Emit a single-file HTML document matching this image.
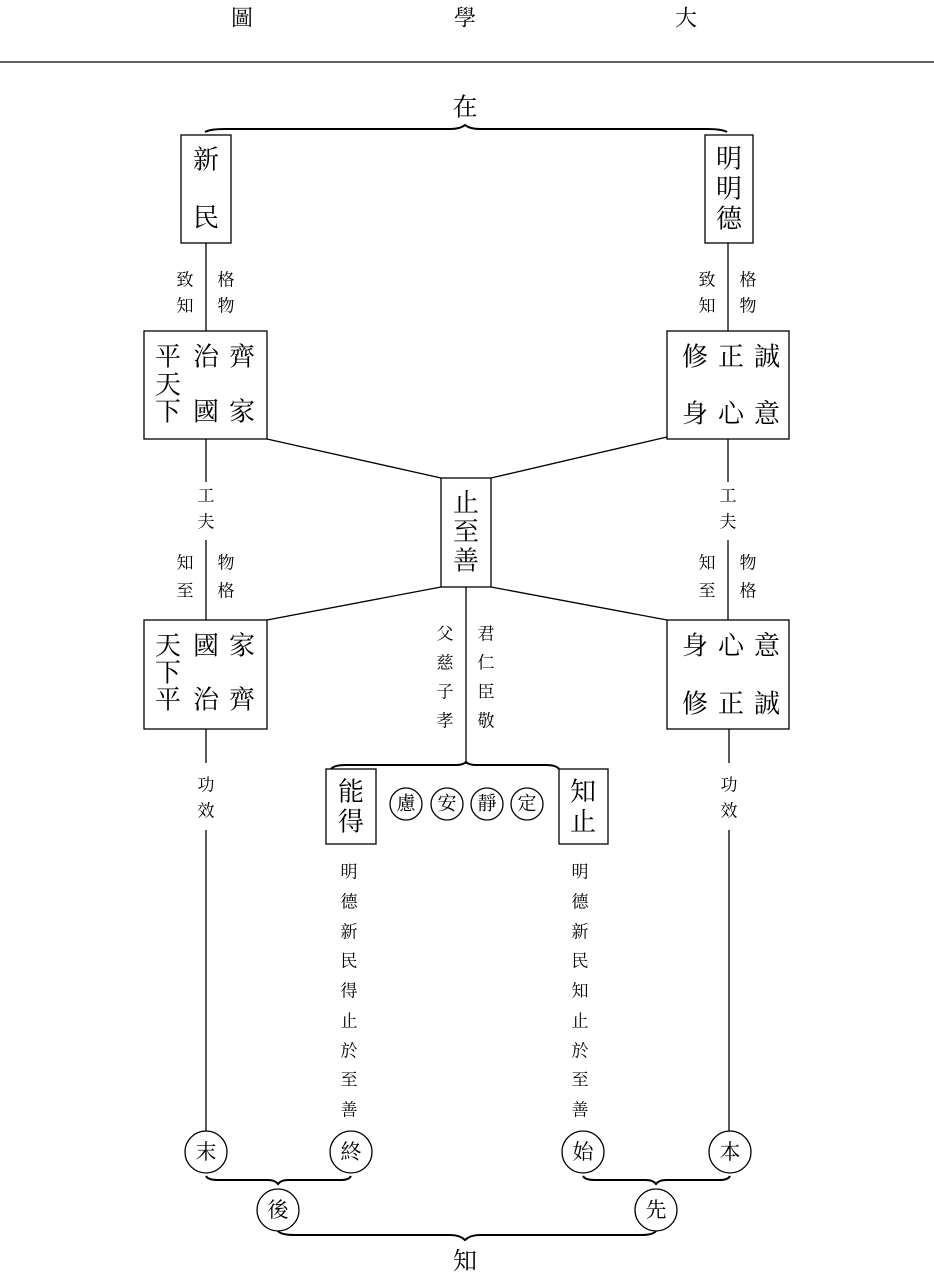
<!DOCTYPE html>
<html><head><meta charset="utf-8"><style>
html,body{margin:0;padding:0;background:#fff}
svg{display:block}
text{font-family:"Liberation Serif","Noto Serif CJK SC","Noto Sans CJK TC",serif;text-anchor:middle;dominant-baseline:central;fill:#000}
.s{font-size:17px;fill:#333}
.m{font-size:26px}
.c{font-size:21px}
</style></head><body>
<svg width="934" height="1277" viewBox="0 0 934 1277" xmlns="http://www.w3.org/2000/svg">
<g font-size="22">
<text x="242" y="18">圖</text><text x="465" y="18">學</text><text x="686" y="18">大</text>
</g>
<line x1="0" y1="62" x2="934" y2="62" stroke="#000" stroke-width="1.2"/>
<g fill="none" stroke="#000" stroke-width="1.3">
<path d="M205,132 Q210,129 225,129 L450,129 Q460,129 465,125 Q470,129 480,129 L707,129 Q722,129 727,132" stroke-width="2"/>
<rect x="181" y="135" width="50" height="108"/>
<rect x="705" y="135" width="48" height="108"/>
<line x1="206" y1="243" x2="206" y2="331"/>
<line x1="728" y1="243" x2="728" y2="331"/>
<rect x="144" y="331" width="123" height="108"/>
<rect x="667" y="331" width="122" height="108"/>
<line x1="267" y1="439" x2="441" y2="478"/>
<line x1="667" y1="437" x2="491" y2="478"/>
<rect x="441" y="478" width="50" height="109"/>
<line x1="441" y1="587" x2="267" y2="620"/>
<line x1="491" y1="587" x2="667" y2="620"/>
<rect x="144" y="620" width="123" height="109"/>
<rect x="667" y="620" width="122" height="109"/>
<line x1="206" y1="439" x2="206" y2="482"/><line x1="206" y1="540" x2="206" y2="620"/>
<line x1="728" y1="439" x2="728" y2="482"/><line x1="728" y1="540" x2="728" y2="620"/>
<line x1="466" y1="587" x2="466" y2="764"/>
<path d="M331,769 Q334,765 346,765 L456,765 Q463,765 466,762 Q469,765 476,765 L546,765 Q556,765 559,769" stroke-width="2"/>
<rect x="326" y="769" width="50" height="75"/>
<rect x="559" y="769" width="49" height="75"/>
<circle cx="406" cy="804" r="16"/><circle cx="447" cy="804" r="16"/>
<circle cx="487" cy="804" r="16"/><circle cx="527" cy="804" r="16"/>
<line x1="206" y1="729" x2="206" y2="763"/><line x1="206" y1="830" x2="206" y2="1131"/>
<line x1="729" y1="729" x2="729" y2="763"/><line x1="729" y1="830" x2="729" y2="1131"/>
<circle cx="206" cy="1152" r="21"/><circle cx="351" cy="1152" r="21"/>
<circle cx="583" cy="1152" r="21"/><circle cx="730" cy="1152" r="21"/>
<path d="M206,1176 Q208,1180 218,1180 L268,1180 Q275,1180 278,1184 Q281,1180 288,1180 L341,1180 Q349,1180 351,1176" stroke-width="2"/>
<path d="M583,1176 Q585,1180 595,1180 L646,1180 Q653,1180 656,1184 Q659,1180 666,1180 L720,1180 Q728,1180 730,1176" stroke-width="2"/>
<circle cx="278" cy="1210" r="21"/><circle cx="656" cy="1210" r="21"/>
<path d="M278,1231 Q281,1235 295,1235 L450,1235 Q460,1235 465,1240 Q470,1235 480,1235 L641,1235 Q653,1235 656,1231" stroke-width="2"/>
</g>
<text x="465" y="108" font-size="25">在</text>
<g class="m">
<text x="206" y="160">新</text><text x="206" y="218">民</text>
<text x="729" y="159">明</text><text x="729" y="189">明</text><text x="729" y="219">德</text>
<text x="168" y="357">平</text><text x="168" y="385">天</text><text x="168" y="412">下</text>
<text x="206" y="357">治</text><text x="206" y="412">國</text>
<text x="242" y="357">齊</text><text x="242" y="412">家</text>
<text x="695" y="357">修</text><text x="731" y="357">正</text><text x="767" y="357">誠</text>
<text x="695" y="414">身</text><text x="731" y="414">心</text><text x="767" y="414">意</text>
<text x="466" y="503">止</text><text x="466" y="532">至</text><text x="466" y="561">善</text>
<text x="168" y="646">天</text><text x="168" y="673">下</text><text x="168" y="700">平</text>
<text x="206" y="646">國</text><text x="206" y="700">治</text>
<text x="242" y="646">家</text><text x="242" y="700">齊</text>
<text x="695" y="646">身</text><text x="731" y="646">心</text><text x="767" y="646">意</text>
<text x="695" y="704">修</text><text x="731" y="704">正</text><text x="767" y="704">誠</text>
<text x="351" y="792">能</text><text x="351" y="822">得</text>
<text x="583" y="792">知</text><text x="583" y="822">止</text>
</g>
<g class="s">
<text x="185" y="280">致</text><text x="185" y="306">知</text>
<text x="226" y="280">格</text><text x="226" y="306">物</text>
<text x="707" y="280">致</text><text x="707" y="306">知</text>
<text x="748" y="280">格</text><text x="748" y="306">物</text>
<text x="206" y="496">工</text><text x="206" y="522">夫</text>
<text x="728" y="496">工</text><text x="728" y="522">夫</text>
<text x="185" y="563">知</text><text x="185" y="591">至</text>
<text x="226" y="563">物</text><text x="226" y="591">格</text>
<text x="707" y="563">知</text><text x="707" y="591">至</text>
<text x="748" y="563">物</text><text x="748" y="591">格</text>
<text x="445" y="634">父</text><text x="445" y="663">慈</text><text x="445" y="692">子</text><text x="445" y="721">孝</text>
<text x="486" y="634">君</text><text x="486" y="663">仁</text><text x="486" y="692">臣</text><text x="486" y="721">敬</text>
<text x="206" y="785">功</text><text x="206" y="811">效</text>
<text x="729" y="785">功</text><text x="729" y="811">效</text>
<text x="349" y="872">明</text><text x="349" y="902">德</text><text x="349" y="932">新</text><text x="349" y="961">民</text><text x="349" y="991">得</text><text x="349" y="1021">止</text><text x="349" y="1051">於</text><text x="349" y="1080">至</text><text x="349" y="1110">善</text>
<text x="580" y="872">明</text><text x="580" y="902">德</text><text x="580" y="932">新</text><text x="580" y="961">民</text><text x="580" y="991">知</text><text x="580" y="1021">止</text><text x="580" y="1051">於</text><text x="580" y="1080">至</text><text x="580" y="1110">善</text>
</g>
<g font-size="19">
<text x="406" y="804">慮</text><text x="447" y="804">安</text><text x="487" y="804">靜</text><text x="527" y="804">定</text>
</g>
<g class="c">
<text x="206" y="1152">末</text><text x="351" y="1152">終</text><text x="583" y="1152">始</text><text x="730" y="1152">本</text>
<text x="278" y="1210">後</text><text x="656" y="1210">先</text>
</g>
<text x="465" y="1262" font-size="24">知</text>
</svg>
</body></html>
